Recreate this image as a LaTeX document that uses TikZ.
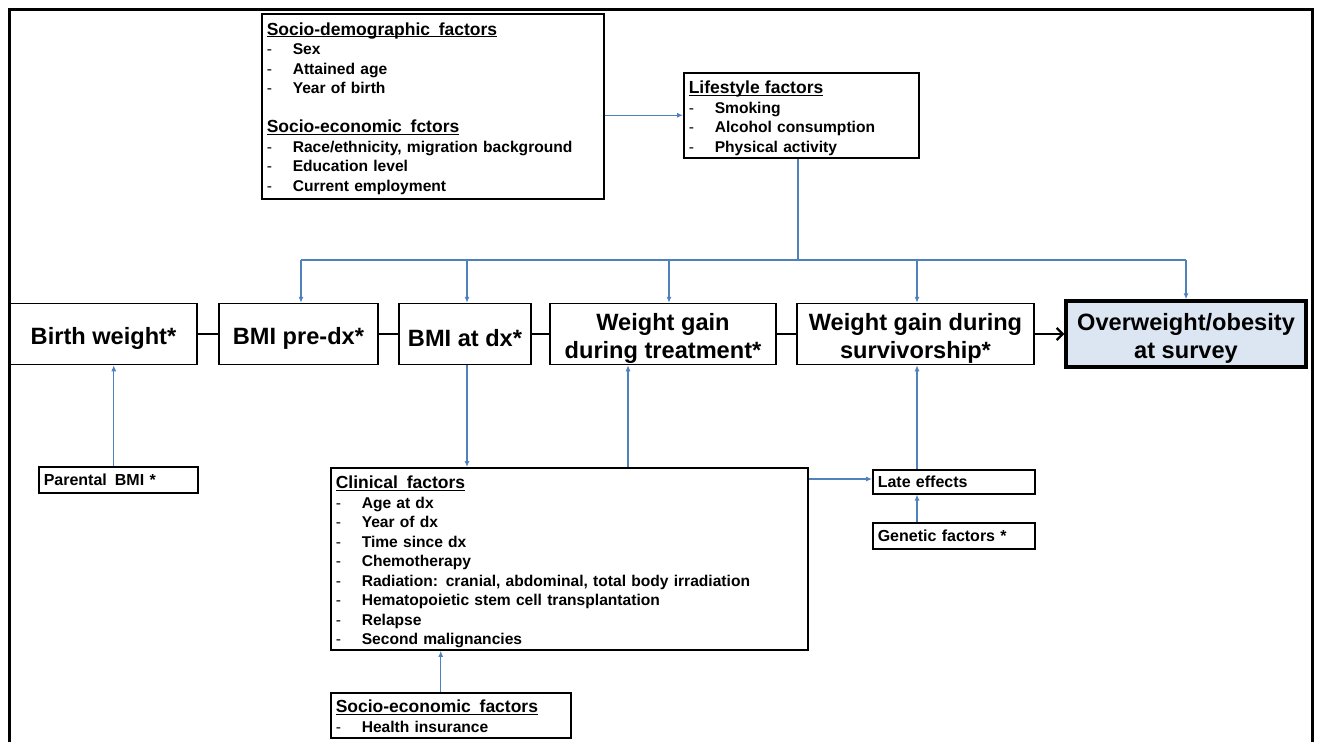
\documentclass[tikz,border=0pt]{standalone}
\usepackage{fontspec}
\setmainfont{Liberation Sans}
\usetikzlibrary{arrows.meta}
\definecolor{bl}{RGB}{79,129,189}
\definecolor{fillb}{RGB}{220,230,242}
\newcommand\ulx[1]{\leavevmode\setbox0\hbox{#1}\rlap{\rule[-2.3pt]{\wd0}{1.1pt}}\box0}
\newcommand\ttl[1]{\leavevmode{\fontsize{17.5}{19.5}\selectfont\ulx{#1}}}
\newcommand\itm[1]{\leavevmode\makebox[26pt][l]{\mdseries-}#1}
\newcommand\dsp{\hspace{0.5em}}
\begin{document}
\begin{tikzpicture}[x=1pt,y=-1pt,
  lbox/.style={draw, line width=1.5pt, anchor=north west, align=left, inner xsep=5pt, inner ysep=2pt,
    font=\bfseries\fontsize{15.6}{19.5}\selectfont},
  mbox/.style={draw, line width=1.5pt, minimum height=61pt, inner sep=0pt},
  mlab/.style={align=center, inner sep=0pt, yshift=-4.5pt,
    font=\bfseries\fontsize{23.6}{27.5}\selectfont},
  barrow/.style={draw=bl, line width=1.1pt, -{Latex[length=6pt,width=5pt]}},
  bline/.style={draw=bl, line width=1.1pt},
  kline/.style={draw=black, line width=2.2pt}]
\useasboundingbox (0,0) rectangle (1317,742);
\draw[line width=3pt, line join=miter] (9,742) -- (9,9) -- (1312,9) -- (1312,742);

% list boxes
\node[lbox, text width=332pt, minimum height=185pt] (sd) at (261,13) {%
\rule{0pt}{17pt}\ttl{Socio-demographic\dsp factors}\\
\itm{Sex}\\
\itm{Attained age}\\
\itm{Year of birth}\\
~\\
\ttl{Socio-economic\dsp fctors}\\
\itm{Race/ethnicity, migration background}\\
\itm{Education level}\\
\itm{Current employment}};

\node[lbox, text width=225pt, minimum height=85pt] (life) at (683,72) {%
\rule{0pt}{19pt}\ttl{Lifestyle factors}\\
\itm{Smoking}\\
\itm{Alcohol consumption}\\
\itm{Physical activity}};

\node[lbox, text width=467pt, minimum height=181pt] (clin) at (330,467) {%
\rule{0pt}{19pt}\ttl{Clinical\dsp factors}\\
\itm{Age at dx}\\
\itm{Year of dx}\\
\itm{Time since dx}\\
\itm{Chemotherapy}\\
\itm{Radiation: cranial, abdominal, total body irradiation}\\
\itm{Hematopoietic stem cell transplantation}\\
\itm{Relapse}\\
\itm{Second malignancies}};

\node[lbox, text width=230pt, minimum height=45pt] (seb) at (330,692) {%
\rule{0pt}{15pt}\ttl{Socio-economic\dsp factors}\\
\itm{Health insurance}};

\node[lbox, text width=149pt, minimum height=26pt, font=\bfseries\fontsize{16}{19}\selectfont] (par) at (38,466) {Parental\dsp BMI *};
\node[lbox, text width=152pt, minimum height=24pt, font=\bfseries\fontsize{16}{19}\selectfont] (late) at (872,469) {Late effects};
\node[lbox, text width=152pt, minimum height=26pt, font=\bfseries\fontsize{16}{19}\selectfont] (gen) at (872,522) {Genetic factors *};

% main row
\node[mbox, minimum width=187pt, label={[mlab]center:Birth weight*}] (birth) at (103.5,334) {};
\node[mbox, minimum width=159pt, label={[mlab]center:BMI pre-dx*}] (pre) at (298.5,334) {};
\node[mbox, minimum width=132pt, label={[mlab]center:BMI at dx*}] (atdx) at (465,334) {};
\node[mbox, minimum width=226pt, label={[mlab]center:{Weight gain\\during treatment*}}] (treat) at (663,334) {};
\node[mbox, minimum width=237pt, label={[mlab]center:{Weight gain during\\survivorship*}}] (surv) at (915.5,334) {};
\node[mbox, minimum width=240pt, minimum height=66pt, line width=3.5pt, fill=fillb,
  label={[mlab]center:{Overweight/obesity\\at survey}}] (over) at (1186,334) {};

% black connectors
\draw[kline] (birth) -- (pre);
\draw[kline] (pre) -- (atdx);
\draw[kline] (atdx) -- (treat);
\draw[kline] (treat) -- (surv);
\draw[kline, -{Straight Barb[length=6pt,width=12pt]}] (surv) -- (over);

% socio-demographic -> lifestyle
\draw[barrow] (sd.east |- life.west) -- (life.west);

% lifestyle bus
\coordinate (bus) at (798,260);
\draw[bline] (life.south -| bus) -- (bus);
\draw[bline] ([xshift=2.5pt]pre.north |- bus) -- (over.north |- bus);
\draw[barrow] ([xshift=2.5pt]pre.north |- bus) -- ([xshift=2.5pt]pre.north);
\draw[barrow] ([xshift=2pt]atdx.north |- bus) -- ([xshift=2pt]atdx.north);
\draw[barrow] ([xshift=6pt]treat.north |- bus) -- ([xshift=6pt]treat.north);
\draw[barrow] ([xshift=1.5pt]surv.north |- bus) -- ([xshift=1.5pt]surv.north);
\draw[barrow] (over.north |- bus) -- (over.north);

% lower connectors
\draw[barrow] ([xshift=-4.5pt]par.north) -- ([xshift=-4.5pt]par.north |- birth.south);
\draw[barrow] ([xshift=2pt]atdx.south) -- ([xshift=2pt]atdx.south |- clin.north);
\draw[barrow] ([xshift=-35pt]treat.south |- clin.north) -- ([xshift=-35pt]treat.south);
\draw[barrow] (clin.east |- 0,479) -- (late.west |- 0,479);
\draw[barrow] ([xshift=1.5pt]surv.south |- late.north) -- ([xshift=1.5pt]surv.south);
\draw[barrow] ([xshift=1.5pt]surv.south |- gen.north) -- ([xshift=1.5pt]surv.south |- late.south);
\draw[barrow] ([xshift=-10pt]seb.north) -- ([xshift=-10pt]seb.north |- clin.south);
\end{tikzpicture}
\end{document}
